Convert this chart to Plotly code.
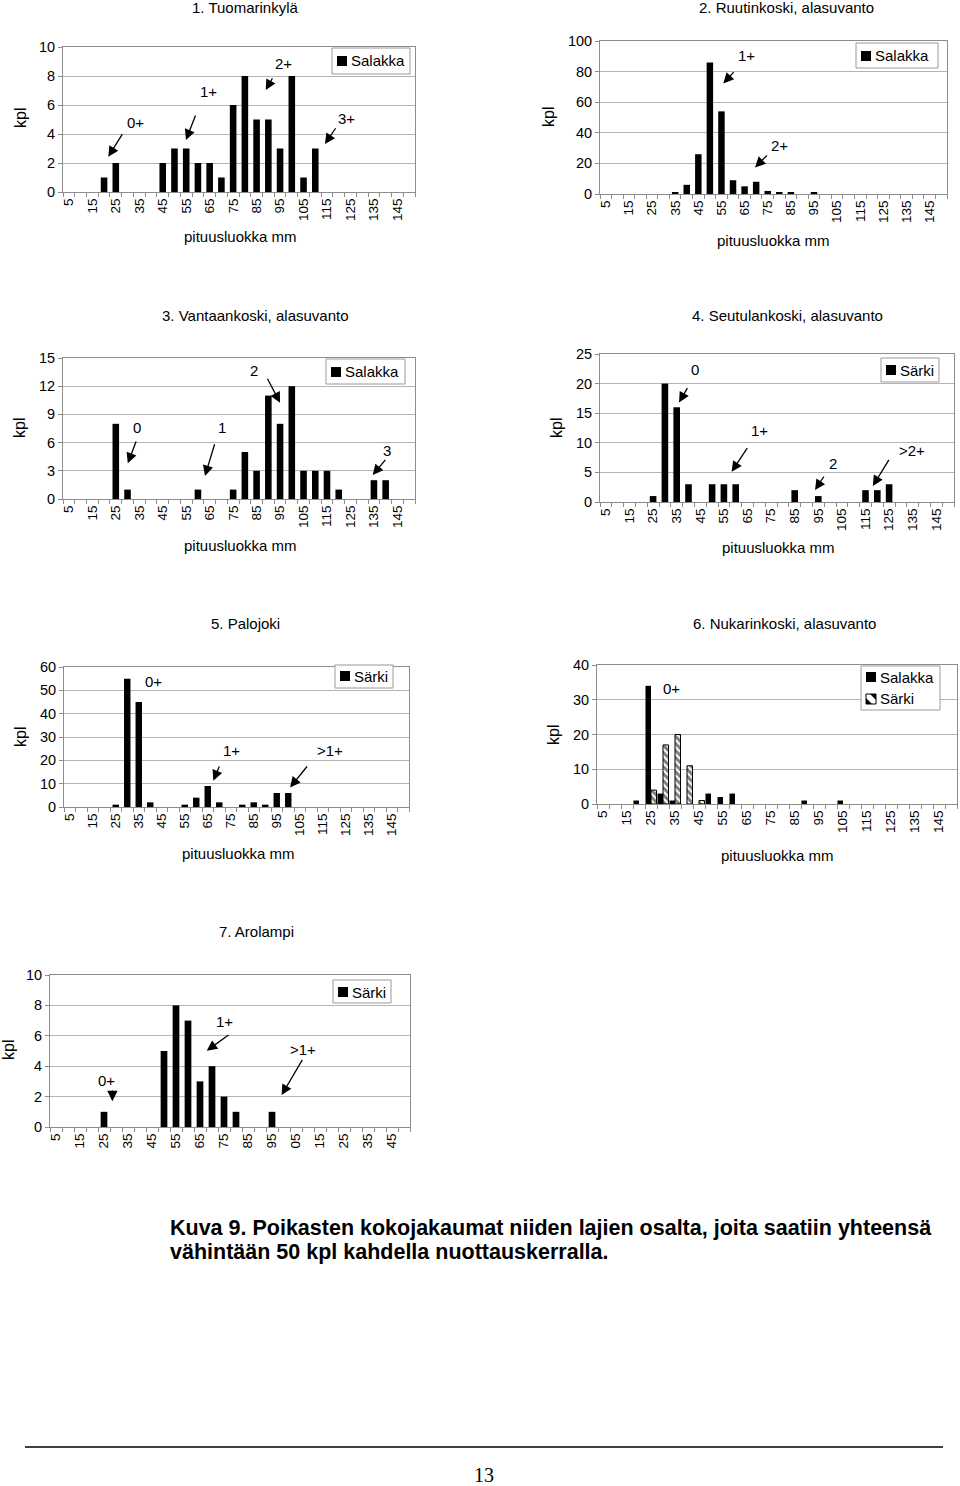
import plotly.graph_objects as go

# ---------------- data ----------------
categories = [5, 10, 15, 20, 25, 30, 35, 40, 45, 50, 55, 60, 65, 70, 75,
              80, 85, 90, 95, 100, 105, 110, 115, 120, 125, 130, 135, 140, 145, 150]
tick_vals = [5, 15, 25, 35, 45, 55, 65, 75, 85, 95, 105, 115, 125, 135, 145]
tick_text = ["5", "15", "25", "35", "45", "55", "65", "75", "85", "95",
             "105", "115", "125", "135", "145"]
tick_text_p7 = ["5", "15", "25", "35", "45", "55", "65", "75", "85", "95",
                "05", "15", "25", "35", "45"]

p1_salakka = [0, 0, 0, 1, 2, 0, 0, 0, 2, 3, 3, 2, 2, 1, 6, 8, 5, 5, 3, 8, 1, 3, 0, 0, 0, 0, 0, 0, 0, 0]
p2_salakka = [0, 0, 0, 0, 0, 0, 1, 6, 26, 86, 54, 9, 5, 8, 2, 1, 1, 0, 1, 0, 0, 0, 0, 0, 0, 0, 0, 0, 0, 0]
p3_salakka = [0, 0, 0, 0, 8, 1, 0, 0, 0, 0, 0, 1, 0, 0, 1, 5, 3, 11, 8, 12, 3, 3, 3, 1, 0, 0, 2, 2, 0, 0]
p4_sarki = [0, 0, 0, 0, 1, 20, 16, 3, 0, 3, 3, 3, 0, 0, 0, 0, 2, 0, 1, 0, 0, 0, 2, 2, 3, 0, 0, 0, 0, 0]
p5_sarki = [0, 0, 0, 0, 1, 55, 45, 2, 0, 0, 1, 4, 9, 2, 0, 1, 2, 1, 6, 6, 0, 0, 0, 0, 0, 0, 0, 0, 0, 0]
p6_salakka = [0, 0, 0, 1, 34, 3, 1, 0, 0, 3, 2, 3, 0, 0, 0, 0, 0, 1, 0, 0, 1, 0, 0, 0, 0, 0, 0, 0, 0, 0]
p6_sarki = [0, 0, 0, 0, 4, 17, 20, 11, 1, 0, 0, 0, 0, 0, 0, 0, 0, 0, 0, 0, 0, 0, 0, 0, 0, 0, 0, 0, 0, 0]
p7_sarki = [0, 0, 0, 0, 1, 0, 0, 0, 0, 5, 8, 7, 3, 4, 2, 1, 0, 0, 1, 0, 0, 0, 0, 0, 0, 0, 0, 0, 0, 0]

titles = ["1. Tuomarinkylä", "2. Ruutinkoski, alasuvanto", "3. Vantaankoski, alasuvanto",
          "4. Seutulankoski, alasuvanto", "5. Palojoki", "6. Nukarinkoski, alasuvanto",
          "7. Arolampi"]
y_max = [10, 100, 15, 25, 60, 40, 10]
y_dtick = [2, 20, 3, 5, 10, 10, 2]

# ---------------- layout geometry (pixels) ----------------
W, H = 960, 1486
FONT = "Liberation Sans, Arial, Helvetica, sans-serif"
GRAY = "#8c8c8c"
GRID = "#b4b4b4"

# plot boxes: left, right, top, bottom
boxes = [(63, 415, 47, 192), (600, 947, 41, 194),
         (63, 415, 358, 499), (600, 954, 354, 502),
         (64, 409, 667, 807), (597, 957, 665, 804),
         (50, 410, 975, 1127)]
title_pos = [(246, 7), (786, 7), (255, 315), (787, 315), (246, 623), (784, 623), (256, 931)]
kpl_pos = [(20, 118), (548, 117), (20, 428), (557, 428), (20, 737), (553, 735), (8, 1050)]
xtitle_pos = [(240, 237), (773, 240), (240, 545), (778, 547), (238, 853), (777, 855), None]


def px(x):
    return x / W


def py(y):
    return 1 - y / H


def nz(vals):
    return [v if v != 0 else None for v in vals]


fig = go.Figure()

series = [
    [(p1_salakka, "solid")],
    [(p2_salakka, "solid")],
    [(p3_salakka, "solid")],
    [(p4_sarki, "solid")],
    [(p5_sarki, "solid")],
    [(p6_salakka, "left"), (p6_sarki, "right")],
    [(p7_sarki, "solid")],
]

for i, group in enumerate(series):
    ax = "" if i == 0 else str(i + 1)
    for vals, kind in group:
        if kind == "solid":
            kw = dict(width=2.8, marker=dict(color="black", line=dict(width=0)))
        elif kind == "left":
            kw = dict(width=2.3, offset=-2.3, marker=dict(color="black", line=dict(width=0)))
        else:
            kw = dict(width=2.3, offset=0,
                      marker=dict(color="white", line=dict(color="black", width=1),
                                  pattern=dict(shape="\\", fgcolor="black", bgcolor="white",
                                               size=5, solidity=0.6)))
        fig.add_trace(go.Bar(x=categories, y=nz(vals), xaxis="x" + ax, yaxis="y" + ax,
                             showlegend=False, hoverinfo="x+y", **kw))

minor_vals = [c - 2.5 for c in categories] + [categories[-1] + 2.5]

for i, (l, r, t, b) in enumerate(boxes):
    ax = "" if i == 0 else str(i + 1)
    fig.layout["xaxis" + ax] = dict(
        domain=[px(l), px(r)], anchor="y" + ax, range=[2.5, 152.5],
        tickmode="array", tickvals=tick_vals,
        ticktext=tick_text_p7 if i == 6 else tick_text,
        tickangle=-90, tickfont=dict(family=FONT, size=13.5, color="black"),
        ticks="", showline=True, linecolor=GRAY, linewidth=1, mirror=True,
        showgrid=False, zeroline=False, automargin=False,
        minor=dict(tickmode="array", tickvals=minor_vals, ticks="outside",
                   ticklen=4, tickcolor=GRAY, showgrid=False),
        fixedrange=True,
    )
    fig.layout["yaxis" + ax] = dict(
        domain=[py(b), py(t)], anchor="x" + ax, range=[0, y_max[i]],
        dtick=y_dtick[i], tick0=0,
        tickfont=dict(family=FONT, size=14.5, color="black"),
        ticks="outside", ticklen=4, tickcolor=GRAY,
        showline=True, linecolor=GRAY, linewidth=1, mirror=True,
        showgrid=True, gridcolor=GRID, gridwidth=1, zeroline=False, automargin=False,
        fixedrange=True,
    )

annotations = []
shapes = []

# titles, axis labels
for i in range(7):
    tx, ty = title_pos[i]
    annotations.append(dict(text=titles[i], x=px(tx), y=py(ty), xref="paper", yref="paper",
                            showarrow=False, xanchor="center", yanchor="middle",
                            font=dict(family=FONT, size=15, color="black")))
    kx, ky = kpl_pos[i]
    annotations.append(dict(text="kpl", x=px(kx), y=py(ky), xref="paper", yref="paper",
                            showarrow=False, textangle=-90, xanchor="center", yanchor="middle",
                            font=dict(family=FONT, size=16, color="black")))
    if xtitle_pos[i]:
        xx, xy = xtitle_pos[i]
        annotations.append(dict(text="pituusluokka mm", x=px(xx), y=py(xy), xref="paper",
                                yref="paper", showarrow=False, xanchor="center",
                                yanchor="middle",
                                font=dict(family=FONT, size=15, color="black")))

# age-class labels (text) and arrows: (panel, label, text_x, text_y, tail_x, tail_y, head_x, head_y)
age_marks = [
    (0, "0+", 33.2, 4.78, 28.2, 4.09, 21.8, 2.43),
    (0, "1+", 64.4, 6.92, 59.2, 5.38, 54.9, 3.59),
    (0, "2+", 96.4, 8.88, 92.1, 7.95, 88.9, 7.03),
    (0, "3+", 123.4, 5.08, 119.1, 4.5, 114.1, 3.31),
    (1, "1+", 65.9, 90.8, 60.9, 80.6, 55.8, 72.3),
    (1, "2+", 80.3, 32.0, 75.3, 26.1, 69.5, 17.4),
    (2, "0", 33.9, 7.63, 33.9, 6.28, 30.1, 3.8),
    (2, "1", 70.1, 7.63, 67.3, 5.99, 63.0, 2.45),
    (2, "2", 83.9, 13.72, 89.3, 12.95, 95.0, 10.24),
    (2, "3", 140.7, 5.21, 140.4, 4.33, 134.5, 2.55),
    (3, "0", 42.8, 22.4, 39.9, 19.5, 36.0, 16.8),
    (3, "1+", 70.0, 12.0, 65.3, 9.34, 58.3, 5.12),
    (3, "2", 101.1, 6.53, 97.8, 4.56, 93.6, 2.03),
    (3, ">2+", 134.9, 8.78, 125.3, 7.38, 118.1, 2.7),
    (4, "0+", 41.3, 53.7, None, None, None, None),
    (4, "1+", 75.4, 24.4, 70.3, 18.0, 67.4, 11.3),
    (4, ">1+", 118.2, 24.4, 108.7, 18.0, 100.8, 8.4),
    (5, "0+", 33.6, 33.3, None, None, None, None),
    (6, "0+", 26.1, 3.09, 28.5, 2.5, 28.5, 1.7),
    (6, "1+", 75.4, 6.93, 77.5, 6.12, 67.8, 5.02),
    (6, ">1+", 108.0, 5.07, 108.0, 4.52, 99.0, 2.1),
]
for (p, lab, tx, ty, ax_, ay_, hx, hy) in age_marks:
    s = "" if p == 0 else str(p + 1)
    annotations.append(dict(text=lab, x=tx, y=ty, xref="x" + s, yref="y" + s,
                            showarrow=False, xanchor="center", yanchor="middle",
                            font=dict(family=FONT, size=15, color="black")))
    if ax_ is not None:
        annotations.append(dict(text="", x=hx, y=hy, ax=ax_, ay=ay_,
                                xref="x" + s, yref="y" + s, axref="x" + s, ayref="y" + s,
                                showarrow=True, arrowhead=2, arrowsize=1.6, arrowwidth=1.3,
                                arrowcolor="black", standoff=0, startstandoff=0))

# manual legends: box (x0, y0, x1, y1), items [(label, style, y_center)]
legends = [
    ((332, 48, 410, 74), [("Salakka", "solid", 61)]),
    ((856, 43, 938, 68), [("Salakka", "solid", 56)]),
    ((326, 359, 405, 384), [("Salakka", "solid", 372)]),
    ((881, 358, 939, 382), [("Särki", "solid", 370)]),
    ((335, 665, 393, 688), [("Särki", "solid", 676)]),
    ((861, 666, 940, 710), [("Salakka", "solid", 677), ("Särki", "hatch", 699)]),
    ((333, 980, 391, 1003), [("Särki", "solid", 992)]),
]
for (x0, y0, x1, y1), items in legends:
    shapes.append(dict(type="rect", xref="paper", yref="paper",
                       x0=px(x0), x1=px(x1), y0=py(y1), y1=py(y0),
                       line=dict(color="#9a9a9a", width=1), fillcolor="white", layer="above"))
    for lab, style, yc in items:
        sx0, sx1 = x0 + 5, x0 + 15
        sy0, sy1 = yc - 5, yc + 5
        if style == "solid":
            shapes.append(dict(type="rect", xref="paper", yref="paper",
                               x0=px(sx0), x1=px(sx1), y0=py(sy1), y1=py(sy0),
                               line=dict(width=0), fillcolor="black", layer="above"))
        else:
            shapes.append(dict(type="rect", xref="paper", yref="paper",
                               x0=px(sx0), x1=px(sx1), y0=py(sy1), y1=py(sy0),
                               line=dict(color="black", width=1), fillcolor="white",
                               layer="above"))
            tri1 = (f"M {px(sx0)} {py(sy1)} L {px(sx0)} {py(sy0 + 4)} "
                    f"L {px(sx1 - 4)} {py(sy1)} Z")
            tri2 = (f"M {px(sx0 + 4)} {py(sy0)} L {px(sx1)} {py(sy0)} "
                    f"L {px(sx1)} {py(sy1 - 4)} Z")
            for pth in (tri1, tri2):
                shapes.append(dict(type="path", xref="paper", yref="paper", path=pth,
                                   line=dict(width=0), fillcolor="black", layer="above"))
        annotations.append(dict(text=lab, x=px(sx1 + 2), y=py(yc), xref="paper", yref="paper",
                                showarrow=False, xanchor="left", yanchor="middle",
                                font=dict(family=FONT, size=15, color="black")))

# caption
CAP_FONT = "Liberation Sans, Arial, sans-serif"
annotations.append(dict(text="<b>Kuva 9. Poikasten kokojakaumat niiden lajien osalta, joita saatiin yhteensä</b>",
                        x=px(168), y=py(1228), xref="paper", yref="paper", showarrow=False,
                        xanchor="left", yanchor="middle",
                        font=dict(family=CAP_FONT, size=21.5, color="black")))
annotations.append(dict(text="<b>vähintään 50 kpl kahdella nuottauskerralla.</b>",
                        x=px(168), y=py(1252), xref="paper", yref="paper", showarrow=False,
                        xanchor="left", yanchor="middle",
                        font=dict(family=CAP_FONT, size=21.5, color="black")))

# footer
shapes.append(dict(type="line", xref="paper", yref="paper", x0=px(25), x1=px(943),
                   y0=py(1447), y1=py(1447), line=dict(color="black", width=1.5)))
annotations.append(dict(text="13", x=px(484), y=py(1475), xref="paper", yref="paper",
                        showarrow=False, xanchor="center", yanchor="middle",
                        font=dict(family="Liberation Serif, Times New Roman, serif", size=20,
                                  color="black")))

fig.update_layout(
    width=W, height=H, margin=dict(l=0, r=0, t=0, b=0, pad=0, autoexpand=False),
    paper_bgcolor="white", plot_bgcolor="white",
    barmode="overlay", showlegend=False,
    annotations=annotations, shapes=shapes,
    font=dict(family=FONT, color="black"),
)

fig.write_html("out.html", config={"displayModeBar": False},
               post_script="document.body.style.margin='0';document.body.style.padding='0';")
